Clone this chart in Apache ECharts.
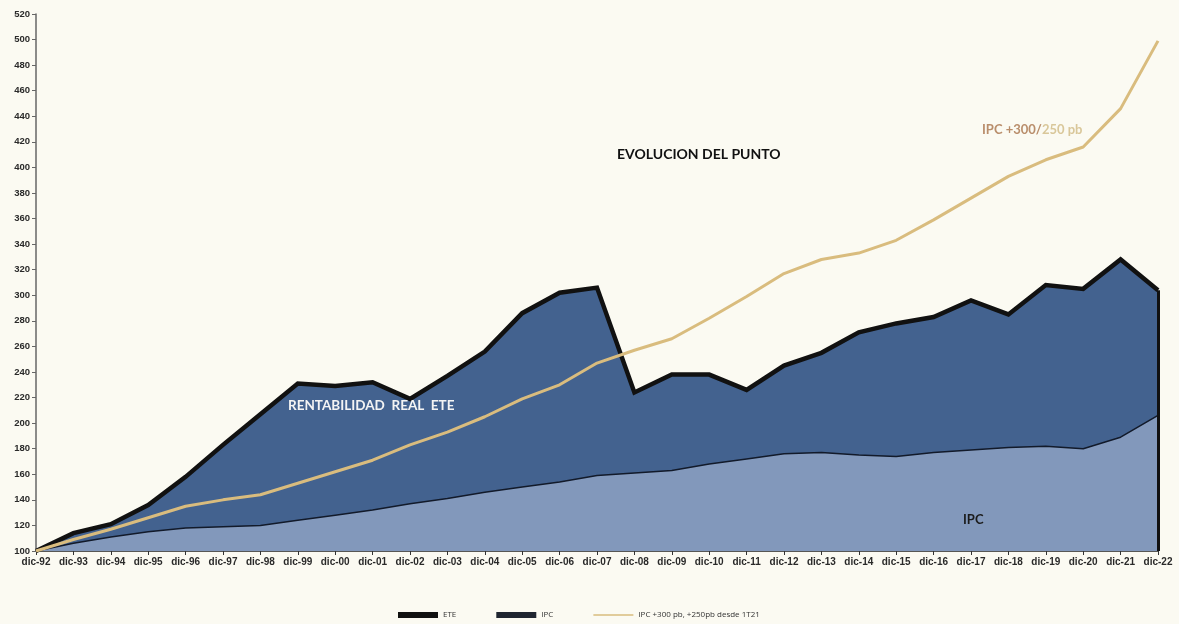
<!DOCTYPE html>
<html>
<head>
<meta charset="utf-8">
<title>Evolución del punto</title>
<script src="https://cdn.jsdelivr.net/npm/echarts@6/dist/echarts.min.js"></script>
<style>
  html, body { margin: 0; padding: 0; background: #fbfaf2; }
  #chart { width: 1179px; height: 624px; }
</style>
</head>
<body>
<div id="chart"></div>
<script>
// Year-end points (dic-92 = 100)
const categories = ['dic-92','dic-93','dic-94','dic-95','dic-96','dic-97','dic-98','dic-99','dic-00','dic-01',
  'dic-02','dic-03','dic-04','dic-05','dic-06','dic-07','dic-08','dic-09','dic-10','dic-11',
  'dic-12','dic-13','dic-14','dic-15','dic-16','dic-17','dic-18','dic-19','dic-20','dic-21','dic-22'];

// ETE total value
const eteValues = [100,114,121,136,158,183,207,231,229,232,219,237,256,286,302,306,224,238,238,226,
  245,255,271,278,283,296,285,308,305,328,304];

// IPC (inflation index)
const ipcValues = [100,106,111,115,118,119,120,124,128,132,137,141,146,150,154,159,161,163,168,172,
  176,177,175,174,177,179,181,182,180,189,206];

// IPC + 300 pb (+250 pb from 1T21)
const targetValues = [100,109,117,126,135,140,144,153,162,171,183,193,205,219,230,247,257,266,282,299,
  317,328,333,343,359,376,393,406,416,446,499];

const yTicks = { min: 100, max: 520, interval: 20 };

const chart = echarts.init(document.getElementById('chart'), null, { renderer: 'canvas' });

const lastIdx = categories.length - 1;

chart.setOption({
  backgroundColor: '#fbfaf2',
  animation: false,
  grid: { left: 36, right: 21, top: 14, bottom: 73, containLabel: false },
  xAxis: {
    type: 'category',
    data: categories,
    boundaryGap: false,
    axisLine: { lineStyle: { color: '#222', width: 1.5 } },
    axisTick: { show: true, length: 4, lineStyle: { color: '#333' } },
    axisLabel: {
      interval: 0, margin: 6,
      fontFamily: 'Liberation Sans, Arial, sans-serif', fontWeight: 'bold',
      fontSize: 10, color: '#2a2a2a'
    },
    splitLine: { show: false }
  },
  yAxis: {
    type: 'value',
    min: yTicks.min, max: yTicks.max, interval: yTicks.interval,
    axisLine: { show: true, lineStyle: { color: '#666', width: 1.5 } },
    axisTick: { show: true, length: 4, lineStyle: { color: '#666' } },
    axisLabel: {
      margin: 6,
      fontFamily: 'Liberation Sans, Arial, sans-serif', fontWeight: 'bold',
      fontSize: 9.5, color: '#2a2a2a'
    },
    splitLine: { show: false }
  },
  legend: {
    left: 393, top: 606,
    itemWidth: 40, itemHeight: 6, itemGap: 40,
    textStyle: { fontFamily: 'Open Sans, sans-serif', fontSize: 8, color: '#333' },
    data: [
      { name: 'ETE', icon: 'rect', itemStyle: { color: '#111' } },
      { name: 'IPC', icon: 'rect', itemStyle: { color: '#1f2530' } },
      { name: 'IPC +300 pb, +250pb desde 1T21', icon: 'path://M0,0L40,0L40,1.5L0,1.5Z', itemStyle: { color: '#d9bc7e' } }
    ]
  },
  series: [
    {
      name: 'ETE',
      type: 'line',
      data: eteValues,
      symbol: 'none',
      z: 2,
      lineStyle: { color: '#111', width: 4.5, join: 'miter' },
      itemStyle: { color: '#111' },
      areaStyle: { color: '#43628f', opacity: 1 },
      markLine: {
        silent: true, symbol: 'none', label: { show: false },
        lineStyle: { color: '#111', width: 3, type: 'solid' },
        data: [[
          { coord: [categories[lastIdx], yTicks.min] },
          { coord: [categories[lastIdx], eteValues[lastIdx]] }
        ]]
      }
    },
    {
      name: 'IPC',
      type: 'line',
      data: ipcValues,
      symbol: 'none',
      z: 3,
      lineStyle: { color: '#121a2a', width: 1.5 },
      itemStyle: { color: '#1f2530' },
      areaStyle: { color: '#8298bb', opacity: 1 }
    },
    {
      name: 'IPC +300 pb, +250pb desde 1T21',
      type: 'line',
      data: targetValues,
      symbol: 'none',
      z: 4,
      lineStyle: { color: '#d9bc7e', width: 3 },
      itemStyle: { color: '#d9bc7e' }
    }
  ],
  graphic: [
    {
      type: 'text', left: 617, top: 147, z: 10,
      style: { text: 'EVOLUCION DEL PUNTO', fill: '#111', font: 'bold 14px Lato, "Open Sans", sans-serif' }
    },
    {
      type: 'text', left: 288, top: 399, z: 10,
      style: { text: 'RENTABILIDAD  REAL  ETE', fill: '#f4f4f4', font: 'bold 13.5px Lato, "Open Sans", sans-serif' }
    },
    {
      type: 'text', left: 963, top: 513, z: 10,
      style: { text: 'IPC', fill: '#1c1c1c', font: 'bold 13px Lato, "Open Sans", sans-serif' }
    },
    {
      type: 'text', left: 982, top: 123, z: 10,
      style: {
        text: '{a|IPC +300/}{b|250 pb}',
        rich: {
          a: { fill: '#b98e6c', font: 'bold 13px Lato, "Open Sans", sans-serif' },
          b: { fill: '#d9c79a', font: 'bold 13px Lato, "Open Sans", sans-serif' }
        }
      }
    }
  ]
});
</script>
</body>
</html>
